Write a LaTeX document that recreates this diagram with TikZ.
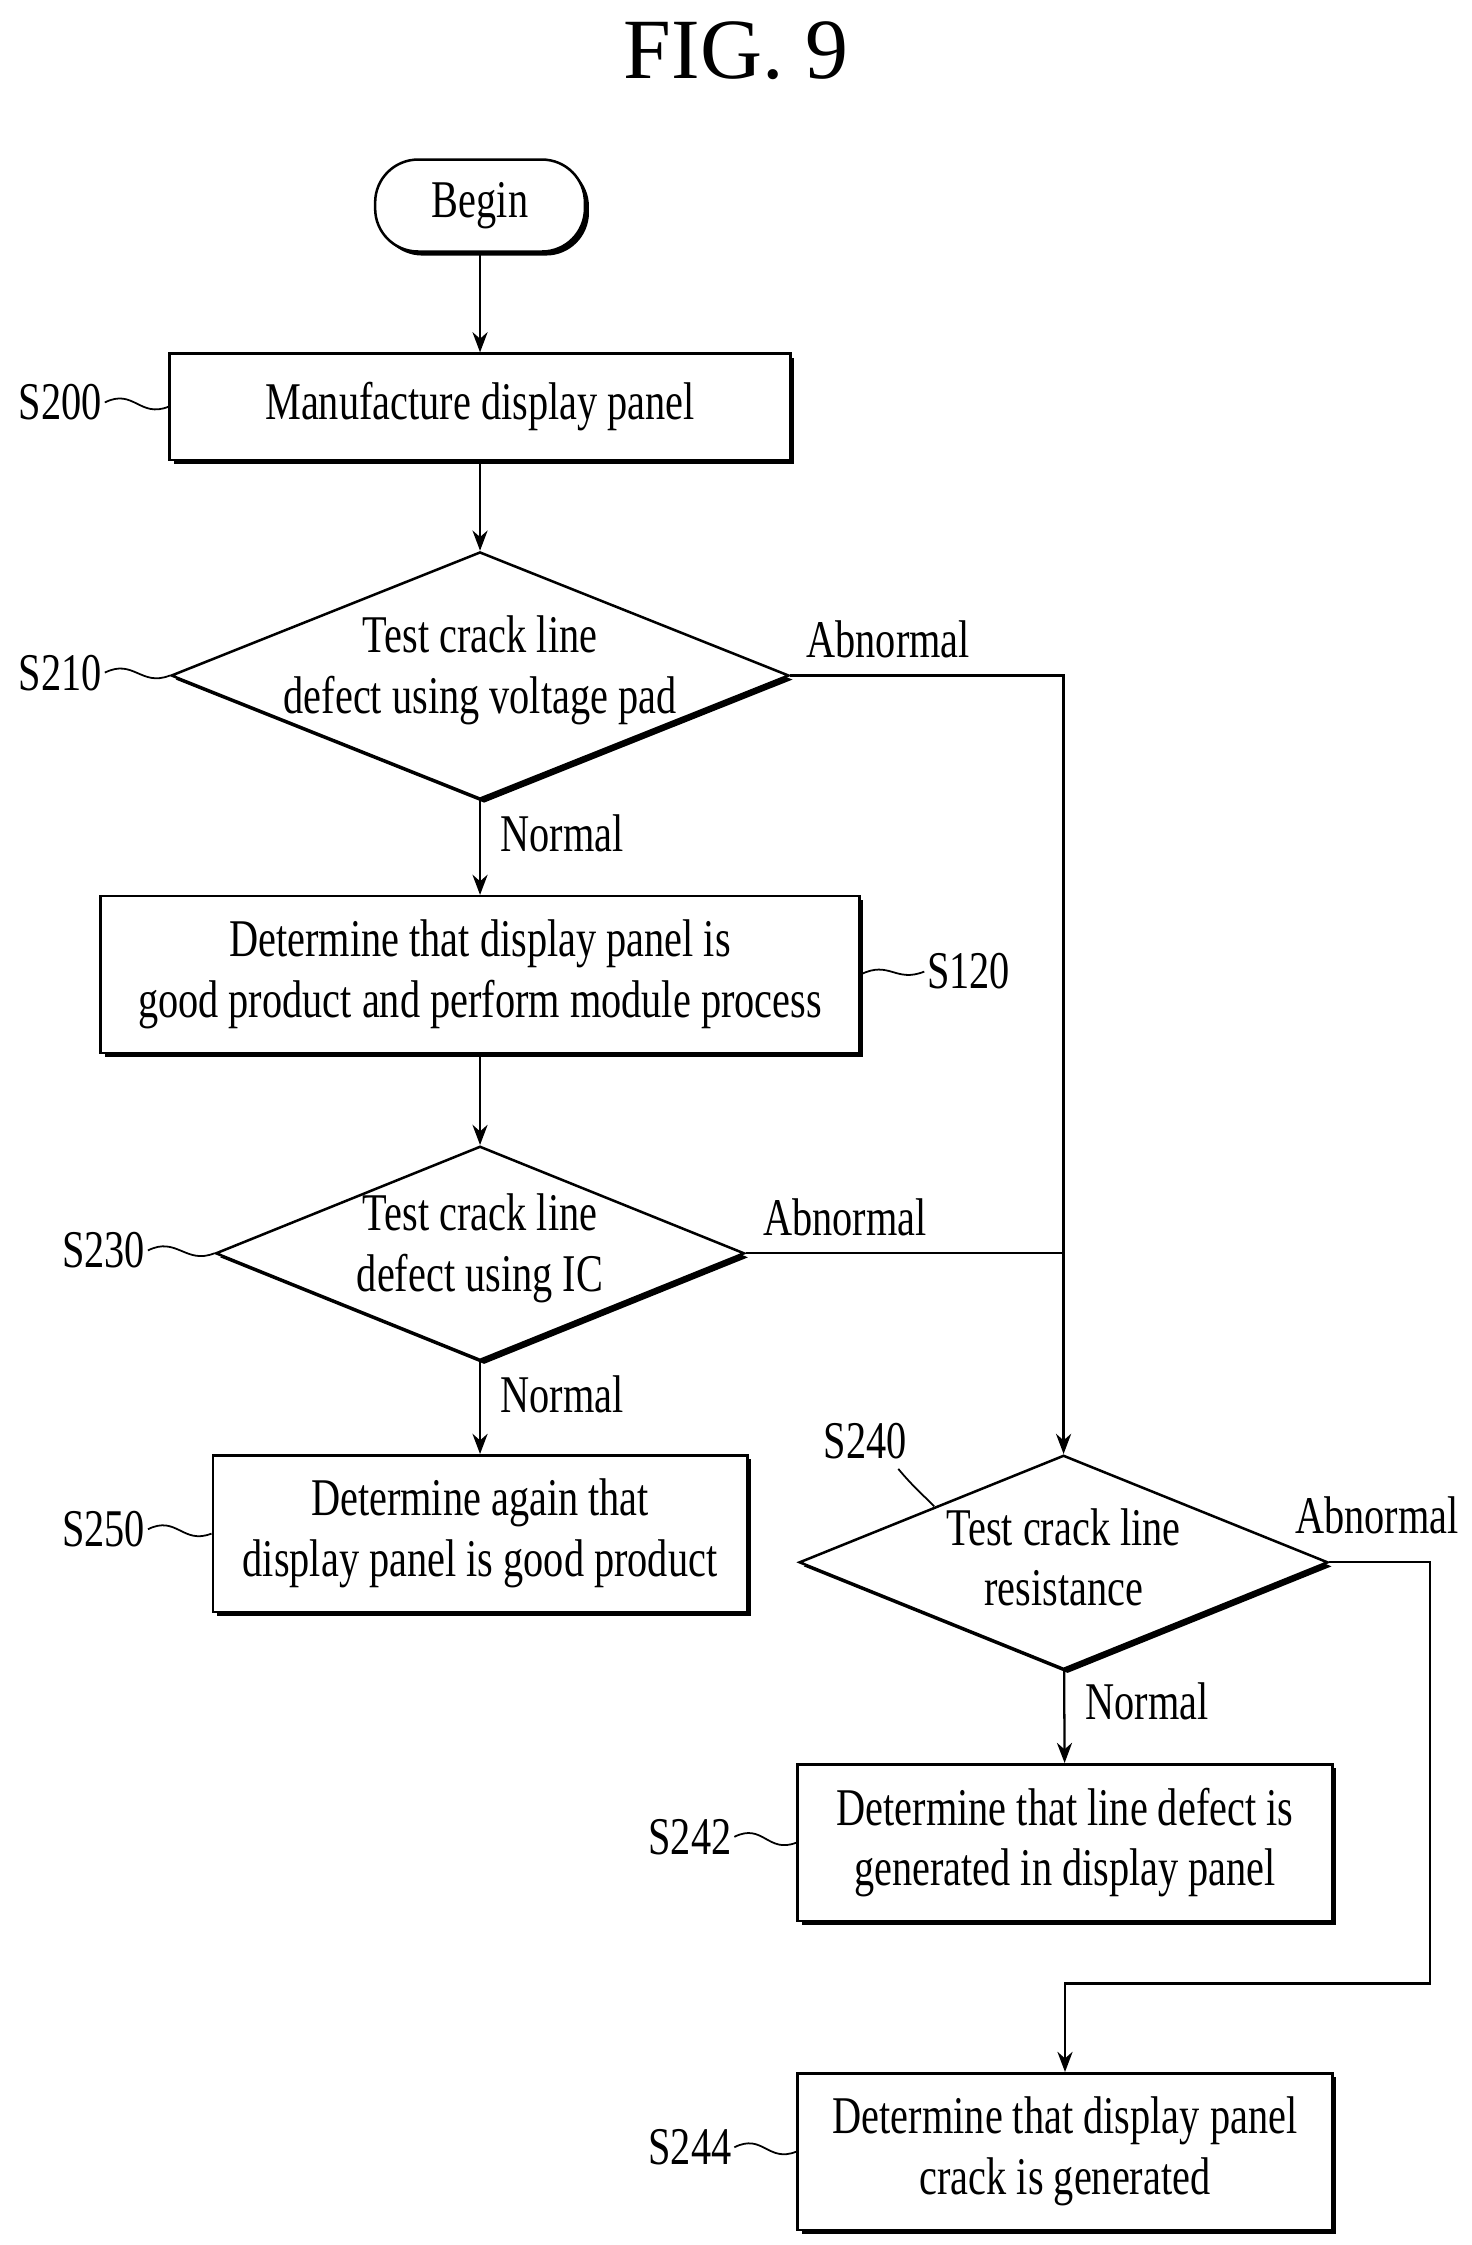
\documentclass[tikz,border=0pt]{standalone}
\usepackage{fontspec}
\setmainfont{Liberation Serif}[FakeStretch=0.76]
\newfontfamily\titlefont{Liberation Serif}
\usetikzlibrary{arrows.meta,positioning,shapes.geometric,shadows}
\tikzset{
  base/.style={draw,line width=1pt,fill=white,font=\fontsize{21}{24}\selectfont,align=center,
    drop shadow={shadow xshift=1.6pt,shadow yshift=-1.6pt,fill=black,opacity=1}},
  box/.style={base,rectangle,inner sep=0pt},
  test/.style={base,diamond,inner sep=0pt,
    label={[font=\fontsize{21}{24}\selectfont,align=center,yshift=2pt]center:#1}},
  arrow/.style={-{Stealth[length=8pt,width=6pt]},line width=0.9pt},
  line/.style={line width=0.9pt},
  tag/.style={font=\fontsize{21}{24}\selectfont,inner sep=1pt},
  wave/.style={line width=0.7pt},
}
\begin{document}
\begin{tikzpicture}[x=0.02cm,y=-0.02cm]
\useasboundingbox (0,0) rectangle (1024,1562);
\node[font=\titlefont\fontsize{34}{40}\selectfont] (title) at (512,35) {FIG. 9};

\node[box,rounded corners=17pt,minimum width=2.92cm,minimum height=1.28cm] (begin) at (334,143) {Begin};
\node[box,minimum width=8.64cm,minimum height=1.48cm] (s200) at (334,283) {Manufacture display panel};
\node[test={Test crack line\\defect using voltage pad},minimum width=8.6cm,minimum height=3.44cm] (s210) at (334,470) {};
\node[box,minimum width=10.56cm,minimum height=2.18cm] (s120) at (334,678) {Determine that display panel is\\good product and perform module process};
\node[test={Test crack line\\defect using IC},minimum width=7.36cm,minimum height=2.98cm] (s230) at (334,872) {};
\node[box,minimum width=7.44cm,minimum height=2.18cm] (s250) at (334,1067) {Determine again that\\display panel is good product};
\node[test={Test crack line\\resistance},minimum width=7.36cm,minimum height=2.98cm] (s240) at (740,1087) {};
\node[box,minimum width=7.44cm,minimum height=2.18cm] (s242) at (741,1282) {Determine that line defect is\\generated in display panel};
\node[box,minimum width=7.44cm,minimum height=2.18cm] (s244) at (741,1497) {Determine that display panel\\crack is generated};

% connectors
\draw[arrow] (begin) -- (s200);
\draw[arrow] (s200) -- (s210);
\draw[arrow] (s210) -- (s120);
\draw[arrow] (s120) -- (s230);
\draw[arrow] (s230) -- (s250);
\draw[arrow] (s240) -- (s242);
\draw[arrow] (s210.east) -| (s240.north);
\draw[line] (s230.east) -- (740,872);
\coordinate (c1) at (995,1380);
\draw[arrow] (s240.east) -| (c1) -| (s244.north);

% branch labels
\node[tag] (ab1) at (618,445) {Abnormal};
\node[tag] (ab2) at (588,847) {Abnormal};
\node[tag] (ab3) at (958,1054) {Abnormal};
\node[tag] (no1) at (391,580) {Normal};
\node[tag] (no2) at (391,970) {Normal};
\node[tag] (no3) at (798,1184) {Normal};

% step labels
\node[tag] (l200) at (42,280) {S200};
\node[tag] (l210) at (42,468) {S210};
\node[tag] (l120) at (674,676) {S120};
\node[tag] (l230) at (72,870) {S230};
\node[tag] (l250) at (72,1064) {S250};
\node[tag] (l240) at (602,1003) {S240};
\node[tag] (l242) at (480,1278) {S242};
\node[tag] (l244) at (480,1494) {S244};
\draw[wave] (l200.east) .. controls +(20,-10) and +(-20,8) .. (s200.west);
\draw[wave] (l210.east) .. controls +(20,-10) and +(-20,8) .. (s210.west);
\draw[wave] (s120.east) .. controls +(20,-10) and +(-20,8) .. (l120.west);
\draw[wave] (l230.east) .. controls +(20,-10) and +(-20,8) .. (s230.west);
\draw[wave] (l250.east) .. controls +(20,-10) and +(-20,8) .. (s250.west);
\draw[wave] (l242.east) .. controls +(20,-10) and +(-20,8) .. (s242.west);
\draw[wave] (l244.east) .. controls +(20,-10) and +(-20,8) .. (s244.west);
\coordinate (e240) at (650,1048);
\draw[wave] (625,1022) .. controls +(10,12) and +(-8,-8) .. (e240);
\end{tikzpicture}
\end{document}
